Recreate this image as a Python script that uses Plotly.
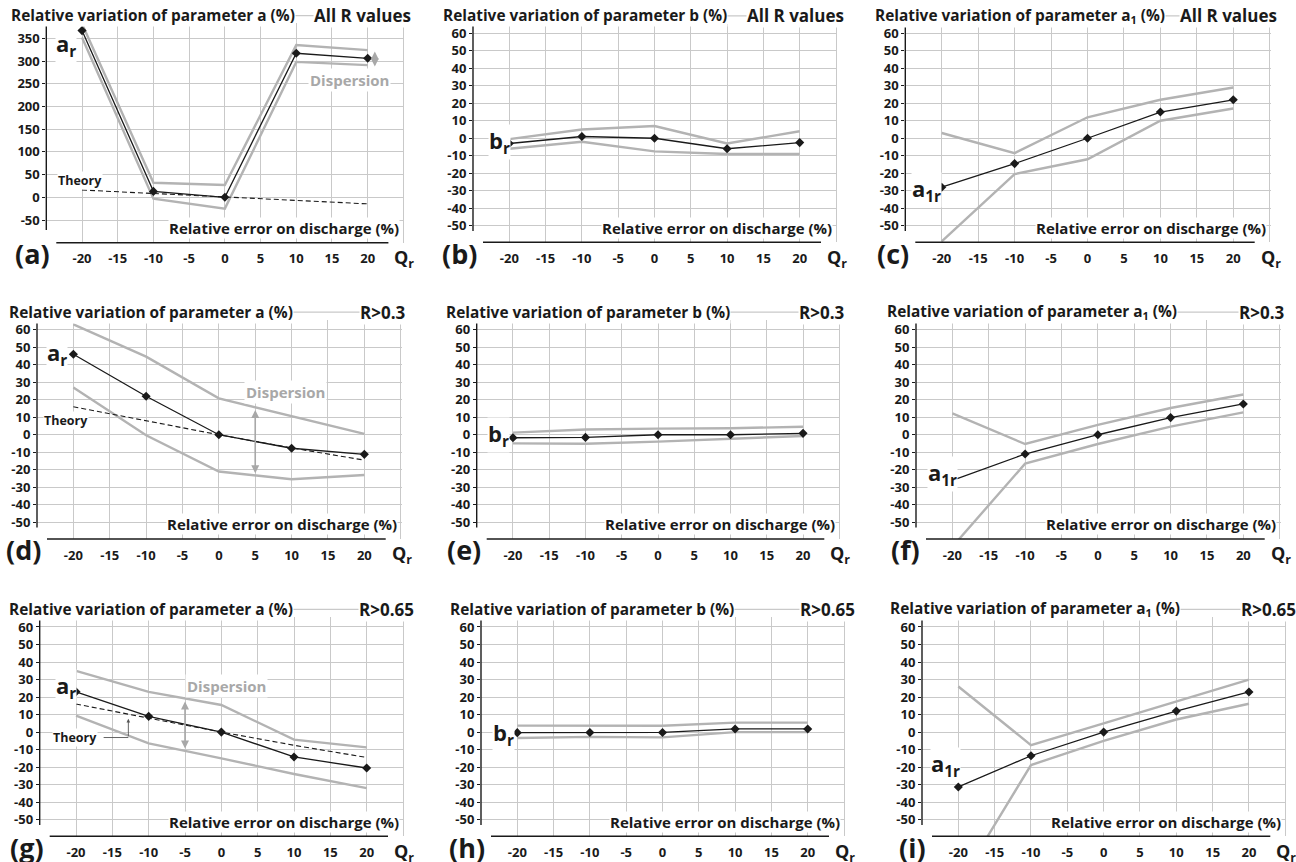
import plotly.graph_objects as go

W, H = 1296, 862

# ---------------- data ----------------
Q = [-20, -10, 0, 10, 20]
theory_a = [16, 8, 0, -7.5, -14.5]

a_all_mean = [367, 13, 0, 317, 306]
a_all_upper = [382, 32, 27, 335, 324]
a_all_lower = [352, -3, -25, 298, 291]

b_all_mean = [-3, 1, 0, -6, -2.5]
b_all_upper = [-0.5, 5, 7, -3, 4]
b_all_lower = [-6, -2, -7.5, -9, -9]

a1_all_mean = [-28, -14.5, 0, 15, 22]
a1_all_upper = [3, -8.5, 12, 22, 29]
a1_all_lower = [-59, -20.5, -12, 10, 17]

a_03_mean = [46, 22, 0, -7.7, -11.2]
a_03_upper = [63, 44.6, 20.8, 10.7, 0.5]
a_03_lower = [27, -0.3, -21, -25.4, -23]

b_03_mean = [-1.7, -1.5, 0, 0, 0.8]
b_03_upper = [1.2, 3, 3.5, 3.7, 4.6]
b_03_lower = [-4.9, -5.1, -3.9, -2.2, -0.7]

a1_03_mean = [-26, -11, 0, 9.8, 17.6]
a1_03_upper = [12.2, -5.3, 5.6, 15.3, 23]
a1_03_lower = [-64, -16.5, -5.3, 4.6, 12.8]

a_065_mean = [23, 9, 0, -14.2, -20.5]
a_065_upper = [35, 23, 15.5, -4.3, -8.7]
a_065_lower = [9.4, -6.4, -15, -23.9, -32]

b_065_mean = [-0.3, -0.2, -0.2, 1.8, 1.8]
b_065_upper = [3.7, 3.6, 3.6, 5.4, 5.4]
b_065_lower = [-3.4, -2.7, -3, 0, 0]

a1_065_mean = [-31.3, -13.5, 0, 12, 22.9]
a1_065_upper = [26, -7.4, 5, 17.4, 30]
a1_065_lower = [-87, -18.8, -5, 7.2, 16.2]

x_tickvals = [-20, -15, -10, -5, 0, 5, 10, 15, 20, 25]
x_ticklabels = ["-20", "-15", "-10", "-5", "0", "5", "10", "15", "20", ""]
y_tickvals_pct = [-50, -40, -30, -20, -10, 0, 10, 20, 30, 40, 50, 60]
y_tickvals_abs = [-50, 0, 50, 100, 150, 200, 250, 300, 350]

param_names = ["a", "b", "a<sub>1</sub>"]
subset_names = ["All R values", "R&gt;0.3", "R&gt;0.65"]
curve_names = ["a<sub>r</sub>", "b<sub>r</sub>", "a<sub>1r</sub>"]
panel_letters = ["(a)", "(b)", "(c)", "(d)", "(e)", "(f)", "(g)", "(h)", "(i)"]
x_title = "Relative error on discharge (%)"

# ---------------- style / geometry ----------------
FONT = "'Open Sans', sans-serif"
GRID = "#c9c9c9"
DISP = "#b3b3b3"
TXT = "#1a1a1a"

PCT = dict(lo=-59.5, hi=65.5, line=70, tickvals=y_tickvals_pct, axend=-53)
ABS = dict(lo=-100, hi=383, line=400, tickvals=y_tickvals_abs, axend=-72)

# (xLeft px, xRight px, px per unit, px of value 0, y config, title left offset)
geoms = [
    (46.3, 403.4, 0.45425, 197.29, ABS, 36),
    (473.0, 836.0, 1.7491, 138.25, PCT, 31),
    (905.3, 1269.7, 1.7491, 138.25, PCT, 31),
    (37.0, 400.7, 1.7509, 434.75, PCT, 29),
    (476.7, 839.3, 1.7509, 434.75, PCT, 31.4),
    (916.0, 1279.7, 1.7509, 434.75, PCT, 30.3),
    (39.7, 403.0, 1.7518, 732.1, PCT, 31.4),
    (481.0, 844.0, 1.7518, 732.1, PCT, 32.3),
    (922.0, 1285.3, 1.7518, 732.1, PCT, 33),
]
right_label_offset = [8.5, 6.5, 11.5]

series = [
    (a_all_upper, a_all_lower, a_all_mean, theory_a),
    (b_all_upper, b_all_lower, b_all_mean, None),
    (a1_all_upper, a1_all_lower, a1_all_mean, None),
    (a_03_upper, a_03_lower, a_03_mean, theory_a),
    (b_03_upper, b_03_lower, b_03_mean, None),
    (a1_03_upper, a1_03_lower, a1_03_mean, None),
    (a_065_upper, a_065_lower, a_065_mean, theory_a),
    (b_065_upper, b_065_lower, b_065_mean, None),
    (a1_065_upper, a1_065_lower, a1_065_mean, None),
]

# curve-name label positions (data coords)
curve_label_pos = [(-22.2, 335), (-21.4, -2), (-22.1, -29.6),
                   (-22.2, 46), (-22.0, -0.1), (-21.4, -22.5),
                   (-21.4, 25.9), (-21.9, -1.2), (-21.7, -18.8)]


def fx(px):
    return px / W


def fy(py):
    return 1 - py / H


fig = go.Figure()
layout = dict(
    width=W, height=H, margin=dict(l=0, r=0, t=0, b=0),
    paper_bgcolor="white", plot_bgcolor="white", showlegend=False,
    font=dict(family=FONT, color=TXT),
)
shapes = []
annotations = []

XEXT = 0.15
for i, (xL, xR, s, y0, yc, toff) in enumerate(geoms):
    n = i + 1
    xs = "" if n == 1 else str(n)
    xa, ya = "x" + xs, "y" + xs
    row, col = divmod(i, 3)

    def py(v, s=s, y0=y0):
        return y0 - v * s

    ppu = (xR - xL) / 50.0
    xdom = [fx(xL), fx(xR + XEXT * ppu)]
    ydom = [fy(py(yc["lo"])), fy(py(yc["hi"]))]
    bottom = py(yc["lo"])

    layout["xaxis" + xs] = dict(
        domain=xdom, range=[-25, 25 + XEXT], anchor=ya,
        tickmode="array", tickvals=x_tickvals,
        ticktext=["<b>%s</b>" % t if t else "" for t in x_ticklabels],
        ticks="outside", ticklen=4, tickcolor="rgba(0,0,0,0)",
        showgrid=True, gridcolor=GRID, gridwidth=1.2,
        zeroline=False, showline=False, fixedrange=True,
        tickfont=dict(size=13, color=TXT, family=FONT),
    )
    layout["yaxis" + xs] = dict(
        domain=ydom, range=[yc["lo"], yc["hi"]], anchor=xa,
        tickmode="array", tickvals=yc["tickvals"],
        ticktext=["<b>%d</b>" % v for v in yc["tickvals"]],
        ticks="outside", ticklen=3, tickcolor=TXT, tickwidth=1.2,
        showgrid=True, gridcolor=GRID, gridwidth=1.2,
        zeroline=False, showline=False, fixedrange=True,
        tickfont=dict(size=13, color=TXT, family=FONT),
    )

    up, lo, mean, th = series[i]
    for arr in (up, lo):
        fig.add_trace(go.Scatter(x=Q, y=arr, xaxis=xa, yaxis=ya, mode="lines",
                                 line=dict(color=DISP, width=2.4), hoverinfo="skip"))
    if th is not None:
        fig.add_trace(go.Scatter(x=Q, y=th, xaxis=xa, yaxis=ya, mode="lines",
                                 line=dict(color=TXT, width=1.1, dash="5px,3px"),
                                 hoverinfo="skip"))
    fig.add_trace(go.Scatter(x=Q, y=mean, xaxis=xa, yaxis=ya, mode="lines+markers",
                             line=dict(color=TXT, width=1.3),
                             marker=dict(symbol="diamond", size=7, color=TXT),
                             cliponaxis=False, hoverinfo="skip"))

    # title line (top grid line) and axis lines
    shapes.append(dict(type="line", xref="paper", yref="paper",
                       x0=fx(xL), x1=fx(xR), y0=fy(py(yc["line"])), y1=fy(py(yc["line"])),
                       line=dict(color=GRID, width=1.3)))
    shapes.append(dict(type="line", xref="paper", yref="paper",
                       x0=fx(xL), x1=fx(xL), y0=fy(py(yc["hi"])), y1=fy(py(yc["axend"])),
                       line=dict(color=TXT, width=1.4)))
    shapes.append(dict(type="line", xref="paper", yref="paper",
                       x0=fx(xL + 10), x1=fx(xR - 15), y0=fy(bottom), y1=fy(bottom),
                       line=dict(color=TXT, width=1.5)))

    # panel title and subset label
    annotations.append(dict(xref="paper", yref="paper", x=fx(xL - toff), y=fy(py(yc["line"])),
                            xanchor="left", yanchor="middle", showarrow=False,
                            text="<b>Relative variation of parameter %s (%%)</b>" % param_names[col],
                            font=dict(size=15.4, color=TXT), bgcolor="white", borderpad=0))
    annotations.append(dict(xref="paper", yref="paper", x=fx(xR + right_label_offset[row]),
                            y=fy(py(yc["line"])),
                            xanchor="right", yanchor="middle", showarrow=False,
                            text="<b>%s</b>" % subset_names[row],
                            font=dict(size=17, color=TXT), bgcolor="white", borderpad=0))
    # x-axis title
    annotations.append(dict(xref="paper", yref="paper", x=fx(xR - 3), y=fy(bottom - 14.5),
                            xanchor="right", yanchor="middle", showarrow=False,
                            text="<b>%s</b>" % x_title,
                            font=dict(size=15, color=TXT), bgcolor="white", borderpad=0))
    # Q_r
    annotations.append(dict(xref="paper", yref="paper", x=fx(xR - 11), y=fy(bottom + 16),
                            xanchor="left", yanchor="middle", showarrow=False,
                            text="<b>Q<sub>r</sub></b>", font=dict(size=18, color=TXT)))
    # panel letter
    annotations.append(dict(xref="paper", yref="paper", x=fx(xL + 6), y=fy(bottom + 11),
                            xanchor="right", yanchor="middle", showarrow=False,
                            text="<b>%s</b>" % panel_letters[i], font=dict(size=27, color=TXT)))
    # curve label
    cx, cy = curve_label_pos[i]
    annotations.append(dict(xref=xa, yref=ya, x=cx, y=cy, xanchor="center", yanchor="middle",
                            showarrow=False, text="<b>%s</b>" % curve_names[col],
                            font=dict(size=22, color=TXT), bgcolor="white", borderpad=0))

# Theory / Dispersion annotations on the parameter-a panels
theory_pos = {0: (-20.3, 38), 3: (-21.0, 8), 6: (-20.1, -3.1)}
disp_pos = {0: (17.5, 258), 3: (9.2, 24.6), 6: (0.7, 26.4)}
disp_arrow = {0: (21.0, 324, 288), 3: (5.0, 15, -22), 6: (-5.0, 18.3, -9.3)}
for i in (0, 3, 6):
    n = i + 1
    xs = "" if n == 1 else str(n)
    xa, ya = "x" + xs, "y" + xs
    tx, ty = theory_pos[i]
    annotations.append(dict(xref=xa, yref=ya, x=tx, y=ty, xanchor="center", yanchor="middle",
                            showarrow=False, text="<b>Theory</b>",
                            font=dict(size=12.5, color=TXT), bgcolor="white", borderpad=0))
    dx, dy = disp_pos[i]
    annotations.append(dict(xref=xa, yref=ya, x=dx, y=dy, xanchor="center", yanchor="middle",
                            showarrow=False, text="<b>Dispersion</b>",
                            font=dict(size=15, color="#a8a8a8"), bgcolor="white", borderpad=1))
    ax_, ay1, ay2 = disp_arrow[i]
    annotations.append(dict(xref=xa, yref=ya, axref=xa, ayref=ya, x=ax_, y=ay2, ax=ax_, ay=ay1,
                            text="", showarrow=True, arrowhead=2, startarrowhead=2,
                            arrowside="end+start", arrowsize=1, startarrowsize=1,
                            arrowwidth=1.6, arrowcolor="#a8a8a8"))

# pointer from "Theory" to the dashed line in panel (g)
shapes.append(dict(type="line", xref="x7", yref="y7", x0=-16.2, x1=-12.8, y0=-3.1, y1=-3.1,
                   line=dict(color="#555555", width=0.9)))
annotations.append(dict(xref="x7", yref="y7", axref="x7", ayref="y7", x=-12.8, y=7.6,
                        ax=-12.8, ay=-3.1, text="", showarrow=True, arrowhead=2,
                        arrowsize=0.8, arrowwidth=0.9, arrowcolor="#555555"))

layout["shapes"] = shapes
layout["annotations"] = annotations
fig.update_layout(**layout)
fig.write_html("out.html", config={"displayModeBar": False, "staticPlot": False},
               post_script="document.body.style.margin='0';document.body.style.overflow='hidden';")
